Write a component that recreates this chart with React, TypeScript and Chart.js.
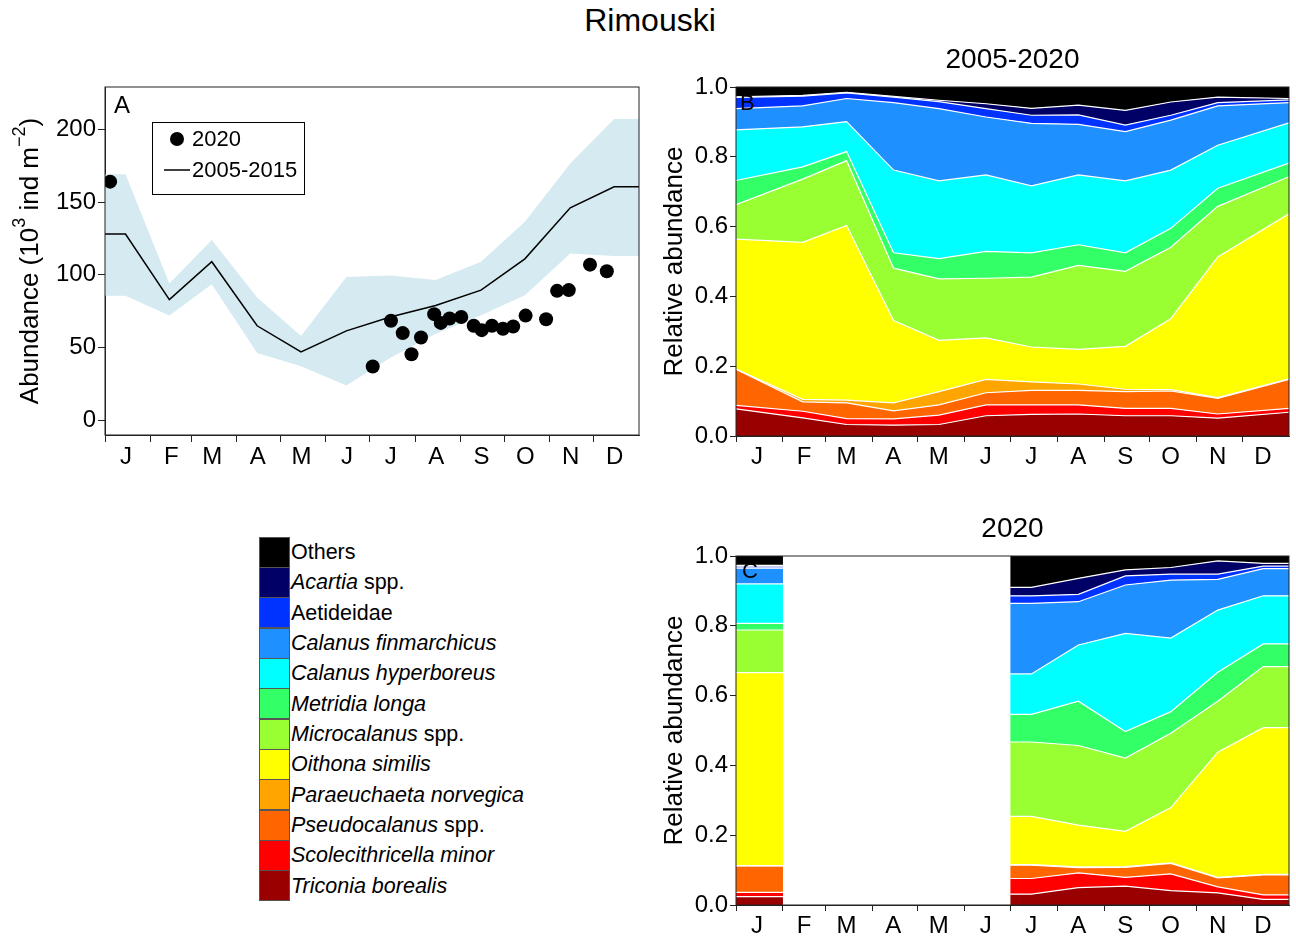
import React, { useEffect, useRef } from 'react';
import { Chart, registerables } from 'chart.js';

Chart.register(...registerables);

const FONT = '"Liberation Sans", Arial, Helvetica, sans-serif';
const AXIS_COLOR = '#222';

// Calendar helpers (day of year, 0-based)
const monthLabels = ['J', 'F', 'M', 'A', 'M', 'J', 'J', 'A', 'S', 'O', 'N', 'D'];
const monthStarts = [0, 31, 59, 90, 120, 151, 181, 212, 243, 273, 304, 334];
const midMonthDays = [14, 44, 73, 104, 134, 165, 195, 226, 257, 287, 318, 348];

// Panel A: total abundance (10^3 ind m^-2)
const meanAbundance0515 = [128, 83, 109, 65, 47, 61.5, 71, 79, 89.5, 111, 146, 160.5];
const upperAbundance0515 = [169, 94, 124, 84.5, 58, 98.5, 99.5, 96.5, 109, 136.5, 176.5, 207];
const lowerAbundance0515 = [85.6, 72, 93.6, 46.3, 37.2, 24, 43, 59.6, 72.3, 86, 114.7, 113];
const sampleDays2020 = [3.5, 183, 195.5, 203.5, 209.5, 216, 225, 229.5, 235.5, 243.5, 252, 257.5, 264.5, 272, 279, 287.5, 301.5, 309, 317, 331.5, 343];
const sampleAbundance2020 = [164, 37, 68.5, 60, 45.5, 57, 73, 67, 70, 71, 65, 62, 65, 63, 64.5, 72, 69.5, 89, 89.5, 107, 102.5];
const abundanceTicks = [0, 50, 100, 150, 200];

// Species, bottom of the stack to top
const speciesItalic = ['Triconia borealis', 'Scolecithricella minor', 'Pseudocalanus', 'Paraeuchaeta norvegica', 'Oithona similis', 'Microcalanus', 'Metridia longa', 'Calanus hyperboreus', 'Calanus finmarchicus', '', 'Acartia', ''];
const speciesPlain = ['', '', ' spp.', '', '', ' spp.', '', '', '', 'Aetideidae', ' spp.', 'Others'];
const speciesColors = ['#990000', '#FF0000', '#FF6600', '#FFA500', '#FFFF00', '#99FF33', '#33FF66', '#00FFFF', '#1E90FF', '#0033FF', '#000066', '#000000'];

// Panel B: monthly relative abundance, 2005-2020 (Jan..Dec)
const triconia0520 = [0.078, 0.052, 0.033, 0.031, 0.033, 0.058, 0.062, 0.063, 0.058, 0.058, 0.051, 0.068];
const scolecithricella0520 = [0.010, 0.019, 0.017, 0.018, 0.027, 0.031, 0.027, 0.026, 0.021, 0.021, 0.012, 0.011];
const pseudocalanus0520 = [0.103, 0.027, 0.045, 0.023, 0.029, 0.035, 0.042, 0.042, 0.048, 0.050, 0.045, 0.083];
const paraeuchaeta0520 = [0.001, 0.007, 0.008, 0.023, 0.038, 0.038, 0.024, 0.018, 0.007, 0.004, 0.002, 0.002];
const oithona0520 = [0.372, 0.450, 0.500, 0.236, 0.147, 0.119, 0.100, 0.099, 0.123, 0.203, 0.403, 0.473];
const microcalanus0520 = [0.099, 0.181, 0.186, 0.150, 0.176, 0.171, 0.200, 0.241, 0.215, 0.205, 0.145, 0.106];
const metridia0520 = [0.069, 0.035, 0.026, 0.044, 0.058, 0.077, 0.070, 0.059, 0.053, 0.054, 0.052, 0.039];
const hyperboreus0520 = [0.145, 0.115, 0.086, 0.237, 0.223, 0.219, 0.192, 0.200, 0.206, 0.167, 0.123, 0.115];
const finmarchicus0520 = [0.061, 0.060, 0.066, 0.193, 0.207, 0.166, 0.179, 0.145, 0.141, 0.143, 0.113, 0.058];
const aetideidae0520 = [0.032, 0.028, 0.016, 0.016, 0.020, 0.024, 0.023, 0.027, 0.019, 0.014, 0.009, 0.008];
const acartia0520 = [0.002, 0.002, 0.002, 0.002, 0.004, 0.014, 0.020, 0.028, 0.042, 0.038, 0.016, 0.004];
const others0520 = [0.028, 0.024, 0.015, 0.027, 0.038, 0.048, 0.061, 0.052, 0.067, 0.043, 0.029, 0.033];
const climDays = [0, 44, 73, 104, 134, 165, 195, 226, 257, 287, 318, 365];

// Panel C: relative abundance in 2020 (Jan, Jul, Aug, Sep, Oct, Nov, Dec)
const triconia2020 = [0.024, 0.031, 0.050, 0.054, 0.041, 0.035, 0.016];
const scolecithricella2020 = [0.012, 0.045, 0.042, 0.025, 0.048, 0.017, 0.013];
const pseudocalanus2020 = [0.076, 0.038, 0.015, 0.029, 0.030, 0.026, 0.057];
const paraeuchaeta2020 = [0.001, 0.002, 0.002, 0.002, 0.002, 0.001, 0.002];
const oithona2020 = [0.553, 0.138, 0.120, 0.101, 0.158, 0.359, 0.420];
const microcalanus2020 = [0.122, 0.213, 0.228, 0.210, 0.213, 0.146, 0.175];
const metridia2020 = [0.019, 0.079, 0.127, 0.076, 0.062, 0.083, 0.065];
const hyperboreus2020 = [0.113, 0.116, 0.161, 0.281, 0.211, 0.178, 0.138];
const finmarchicus2020 = [0.045, 0.202, 0.124, 0.139, 0.166, 0.088, 0.078];
const aetideidae2020 = [0.004, 0.022, 0.021, 0.026, 0.017, 0.015, 0.007];
const acartia2020 = [0.004, 0.024, 0.046, 0.017, 0.019, 0.038, 0.008];
const others2020 = [0.027, 0.090, 0.064, 0.040, 0.033, 0.014, 0.021];
// Jan covers the whole month; Jul..Dec are joined at mid-month
const janBlockDays = [0, 31];
const janBlockPick = [0, 0];
const summerDays = [181, 195, 226, 257, 287, 318, 348, 365];
const summerPick = [1, 1, 2, 3, 4, 5, 6, 6];

const series0520 = [triconia0520, scolecithricella0520, pseudocalanus0520, paraeuchaeta0520, oithona0520, microcalanus0520, metridia0520, hyperboreus0520, finmarchicus0520, aetideidae0520, acartia0520, others0520];
const series2020 = [triconia2020, scolecithricella2020, pseudocalanus2020, paraeuchaeta2020, oithona2020, microcalanus2020, metridia2020, hyperboreus2020, finmarchicus2020, aetideidae2020, acartia2020, others2020];

function stackLayers(series: number[][], xs: number[], pick: number[]) {
  const cum = pick.map(() => 0);
  return series.map((s, i) => {
    const data = pick.map((k, j) => {
      cum[j] += s[k];
      return { x: xs[j], y: Math.min(cum[j], 1) };
    });
    return {
      label: speciesItalic[i] + speciesPlain[i],
      data,
      backgroundColor: speciesColors[i],
      borderColor: '#ffffff',
      borderWidth: i === series.length - 1 ? 0 : 1.2,
      fill: i === 0 ? 'origin' : '-1',
      pointRadius: 0,
      tension: 0,
    };
  });
}

function monthAxis(height: number, tickLength: number) {
  return {
    type: 'linear',
    min: 0,
    max: 365,
    afterBuildTicks: (s: any) => {
      s.ticks = monthStarts.map((v) => ({ value: v }));
    },
    afterFit: (s: any) => {
      s.height = height;
    },
    grid: { display: true, drawOnChartArea: false, drawTicks: true, tickLength, color: AXIS_COLOR, lineWidth: 1 },
    border: { display: true, color: AXIS_COLOR, width: 1 },
    ticks: {
      callback: (_v: any, i: number) => monthLabels[i],
      labelOffset: 21,
      padding: 1,
      autoSkip: false,
      maxRotation: 0,
      minRotation: 0,
      color: '#000',
      font: { family: FONT, size: 24 },
    },
  };
}

function relativeAxis(width: number) {
  return {
    type: 'linear',
    min: 0,
    max: 1,
    afterFit: (s: any) => {
      s.width = width;
    },
    grid: { display: true, drawOnChartArea: false, drawTicks: true, tickLength: 6, color: AXIS_COLOR, lineWidth: 1 },
    border: { display: true, color: AXIS_COLOR, width: 1 },
    ticks: {
      stepSize: 0.2,
      padding: 2,
      color: '#000',
      font: { family: FONT, size: 24 },
      callback: (v: any) => Number(v).toFixed(1),
    },
    title: {
      display: true,
      text: 'Relative abundance',
      color: '#000',
      font: { family: FONT, size: 26 },
      padding: { top: 9, bottom: 0 },
    },
  };
}

const framePlugin = {
  id: 'frame',
  afterDatasetsDraw(chart: any) {
    const { ctx, chartArea: a } = chart;
    ctx.save();
    ctx.strokeStyle = AXIS_COLOR;
    ctx.lineWidth = 1;
    ctx.strokeRect(a.left, a.top, a.right - a.left, a.bottom - a.top);
    ctx.restore();
  },
};

function panelTextPlugin(title: string, letter: string, letterSize: number, dx: number, dy: number) {
  return {
    id: 'panelText',
    afterDraw(chart: any) {
      const { ctx, chartArea: a } = chart;
      ctx.save();
      ctx.fillStyle = '#000';
      if (title) {
        ctx.font = `28px ${FONT}`;
        ctx.textAlign = 'center';
        ctx.textBaseline = 'middle';
        ctx.fillText(title, (a.left + a.right) / 2, a.top - 27);
      }
      ctx.font = `${letterSize}px ${FONT}`;
      ctx.textAlign = 'left';
      ctx.textBaseline = 'alphabetic';
      ctx.fillText(letter, a.left + dx, a.top + dy);
      ctx.restore();
    },
  };
}

// Axis title with true superscripts plus the inset legend of panel A
const abundanceExtrasPlugin = {
  id: 'abundanceExtras',
  afterDraw(chart: any) {
    const { ctx, chartArea: a } = chart;
    ctx.save();
    ctx.fillStyle = '#000';
    const big = `26px ${FONT}`;
    const small = `18px ${FONT}`;
    const parts = [
      { t: 'Abundance (10', f: big, dy: 0 },
      { t: '3', f: small, dy: -11 },
      { t: ' ind m', f: big, dy: 0 },
      { t: '\u22122', f: small, dy: -11 },
      { t: ')', f: big, dy: 0 },
    ];
    let total = 0;
    const widths = parts.map((p) => {
      ctx.font = p.f;
      const w = ctx.measureText(p.t).width;
      total += w;
      return w;
    });
    ctx.translate(31, (a.top + a.bottom) / 2);
    ctx.rotate(-Math.PI / 2);
    ctx.textBaseline = 'middle';
    ctx.textAlign = 'left';
    let x = -total / 2;
    parts.forEach((p, i) => {
      ctx.font = p.f;
      ctx.fillText(p.t, x, p.dy);
      x += widths[i];
    });
    ctx.restore();

    // inset legend
    const bx = a.left + 47;
    const by = a.top + 35;
    ctx.save();
    ctx.strokeStyle = '#000';
    ctx.lineWidth = 1;
    ctx.strokeRect(bx + 0.5, by + 0.5, 152, 72);
    ctx.fillStyle = '#000';
    ctx.beginPath();
    ctx.arc(bx + 25, by + 17, 7, 0, Math.PI * 2);
    ctx.fill();
    ctx.lineWidth = 1.5;
    ctx.beginPath();
    ctx.moveTo(bx + 12, by + 48);
    ctx.lineTo(bx + 38, by + 48);
    ctx.stroke();
    ctx.font = `22px ${FONT}`;
    ctx.textBaseline = 'middle';
    ctx.textAlign = 'left';
    ctx.fillText('2020', bx + 40, by + 18);
    ctx.fillText('2005-2015', bx + 40, by + 49);
    ctx.restore();

    // panel letter
    ctx.save();
    ctx.fillStyle = '#000';
    ctx.font = `24px ${FONT}`;
    ctx.textBaseline = 'alphabetic';
    ctx.fillText('A', a.left + 9, a.top + 26);
    ctx.restore();
  },
};

function extend(values: number[]) {
  const pts = [{ x: 0, y: values[0] }];
  values.forEach((v, i) => pts.push({ x: midMonthDays[i], y: v }));
  pts.push({ x: 365, y: values[values.length - 1] });
  return pts;
}

function configA(): any {
  return {
    type: 'line',
    data: {
      datasets: [
        {
          label: '2020',
          data: sampleDays2020.map((d, i) => ({ x: d, y: sampleAbundance2020[i] })),
          showLine: false,
          pointRadius: 7,
          pointBackgroundColor: '#000',
          pointBorderWidth: 0,
          borderColor: '#000',
        },
        {
          label: '2005-2015',
          data: extend(meanAbundance0515),
          borderColor: '#000',
          borderWidth: 1.5,
          pointRadius: 0,
          tension: 0,
          fill: false,
        },
        {
          label: 'upper',
          data: extend(upperAbundance0515),
          borderWidth: 0,
          pointRadius: 0,
          backgroundColor: '#d5eaf1',
          fill: '+1',
          tension: 0,
        },
        {
          label: 'lower',
          data: extend(lowerAbundance0515),
          borderWidth: 0,
          pointRadius: 0,
          fill: false,
          tension: 0,
        },
      ],
    },
    options: {
      responsive: false,
      maintainAspectRatio: false,
      animation: false,
      devicePixelRatio: 1,
      layout: { padding: { left: 0, top: 27, right: 16, bottom: 0 } },
      plugins: { legend: { display: false }, tooltip: { enabled: false } },
      scales: {
        x: monthAxis(65, 7),
        y: {
          type: 'linear',
          min: -10,
          max: 229,
          afterBuildTicks: (s: any) => {
            s.ticks = abundanceTicks.map((v) => ({ value: v }));
          },
          afterFit: (s: any) => {
            s.width = 105;
          },
          grid: { display: true, drawOnChartArea: false, drawTicks: true, tickLength: 7, color: AXIS_COLOR, lineWidth: 1 },
          border: { display: true, color: AXIS_COLOR, width: 1 },
          ticks: { padding: 2, color: '#000', font: { family: FONT, size: 24 } },
        },
      },
    },
    plugins: [framePlugin, abundanceExtrasPlugin],
  };
}

function stackOptions(padTop: number, xHeight: number): any {
  return {
    responsive: false,
    maintainAspectRatio: false,
    animation: false,
    devicePixelRatio: 1,
    layout: { padding: { left: 0, top: padTop, right: 7, bottom: 0 } },
    plugins: {
      legend: { display: false },
      tooltip: { enabled: false },
      filler: { drawTime: 'beforeDatasetsDraw' },
    },
    scales: {
      x: monthAxis(xHeight, 6),
      y: relativeAxis(86),
    },
  };
}

function configB(): any {
  return {
    type: 'line',
    data: { datasets: stackLayers(series0520, climDays, climDays.map((_, i) => i)) },
    options: stackOptions(47, 44),
    plugins: [framePlugin, panelTextPlugin('2005-2020', 'B', 22, 4, 23)],
  };
}

function configC(): any {
  return {
    type: 'line',
    data: {
      datasets: [
        ...stackLayers(series2020, janBlockDays, janBlockPick),
        ...stackLayers(series2020, summerDays, summerPick),
      ],
    },
    options: stackOptions(46, 33),
    plugins: [framePlugin, panelTextPlugin('2020', 'C', 22, 6, 22)],
  };
}

const legendTop = 537;
const legendRow = 30.33;

export default function App() {
  const aRef = useRef<HTMLCanvasElement>(null);
  const bRef = useRef<HTMLCanvasElement>(null);
  const cRef = useRef<HTMLCanvasElement>(null);

  useEffect(() => {
    const charts = [
      new Chart(aRef.current as HTMLCanvasElement, configA()),
      new Chart(bRef.current as HTMLCanvasElement, configB()),
      new Chart(cRef.current as HTMLCanvasElement, configC()),
    ];
    return () => charts.forEach((c) => c.destroy());
  }, []);

  const legendOrder = speciesColors.map((_, i) => speciesColors.length - 1 - i);

  return (
    <div
      style={{
        position: 'absolute',
        left: 0,
        top: 0,
        width: 1296,
        height: 938,
        background: '#fff',
        fontFamily: FONT,
        color: '#000',
        overflow: 'hidden',
      }}
    >
      <div style={{ position: 'absolute', left: 0, top: 4, width: 1300, textAlign: 'center', fontSize: 32, lineHeight: '32px' }}>
        Rimouski
      </div>
      <canvas ref={aRef} width={655} height={440} style={{ position: 'absolute', left: 0, top: 60, width: 655, height: 440 }} />
      <canvas ref={bRef} width={646} height={440} style={{ position: 'absolute', left: 650, top: 40, width: 646, height: 440 }} />
      <canvas ref={cRef} width={646} height={428} style={{ position: 'absolute', left: 650, top: 510, width: 646, height: 428 }} />
      {legendOrder.map((k, row) => (
        <div
          key={k}
          style={{
            position: 'absolute',
            left: 259,
            top: legendTop + row * legendRow,
            height: legendRow,
            display: 'flex',
            alignItems: 'center',
            whiteSpace: 'nowrap',
          }}
        >
          <div style={{ width: 29, height: legendRow - 1.5, background: speciesColors[k], border: '1px solid #555', boxSizing: 'content-box' }} />
          <span style={{ marginLeft: 1, fontSize: 21.5, lineHeight: '24px' }}>
            {speciesItalic[k] ? <i>{speciesItalic[k]}</i> : null}
            {speciesPlain[k]}
          </span>
        </div>
      ))}
    </div>
  );
}
